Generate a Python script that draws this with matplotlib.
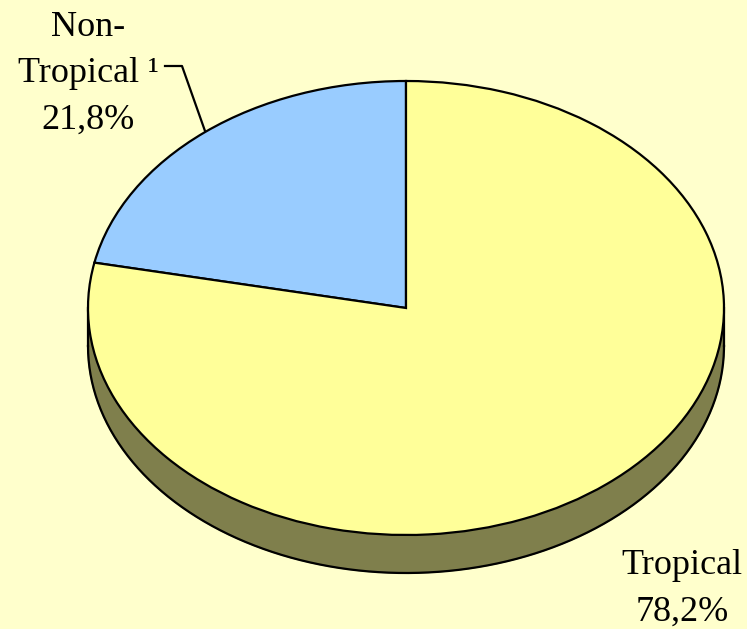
import numpy as np
import matplotlib.pyplot as plt

# data
labels = ["Non-\nTropical \u00b9", "Tropical"]
shares = [21.8, 78.2]
colors = ["#99CCFF", "#FFFF99"]

BG = "#FFFFCC"
SIDE = "#7F7F4C"
W, H = 747, 629
CX, CY, RX, RY = 406, 308, 318, 227   # ellipse in pixels
DEPTH = 38 / RY
LW = 1.6


def to_data(px, py):
    return (px - CX) / RX, (CY - py) / RY


fig = plt.figure(figsize=(W / 100, H / 100), dpi=100, facecolor=BG)
ax = fig.add_axes([0, 0, 1, 1])
ax.set_facecolor(BG)

wedges, _ = ax.pie(shares, colors=colors, startangle=90, counterclock=True,
                   wedgeprops=dict(edgecolor="black", linewidth=LW),
                   radius=1, center=(0, 0))
for w in wedges:
    w.set_zorder(3)

# side of the 3D pie (front half, lower rim)
t = np.linspace(np.pi, 2 * np.pi, 200)
xs = np.concatenate([np.cos(t), np.cos(t[::-1])])
ys = np.concatenate([np.sin(t), np.sin(t[::-1]) - DEPTH])
ax.fill(xs, ys, color=SIDE, zorder=1)
ax.plot(np.cos(t), np.sin(t) - DEPTH, color="black", lw=LW, zorder=2)
ax.plot([-1, -1], [0, -DEPTH], color="black", lw=LW, zorder=2)
ax.plot([1, 1], [0, -DEPTH], color="black", lw=LW, zorder=2)

ax.set_aspect("auto")
x0, _ = to_data(0, 0)
x1, _ = to_data(W, 0)
_, y0 = to_data(0, H)
_, y1 = to_data(0, 0)
ax.set_xlim(x0, x1)
ax.set_ylim(y0, y1)
ax.axis("off")

font = dict(family="Liberation Serif", fontsize=26, color="black",
            ha="center", va="center", linespacing=1.52)

# labels
lx, ly = to_data(88, 74)
ax.text(lx, ly, labels[0] + "\n" + f"{shares[0]:.1f}%".replace(".", ","), **font)
tx, ty = to_data(682, 589)
ax.text(tx, ty, labels[1] + "\n" + f"{shares[1]:.1f}%".replace(".", ","), **font)

# leader line
pts = [to_data(165, 66), to_data(182, 66), to_data(205, 131)]
ax.plot([p[0] for p in pts], [p[1] for p in pts], color="black", lw=LW, zorder=4)

fig.savefig("out.png", dpi=100, facecolor=BG)
